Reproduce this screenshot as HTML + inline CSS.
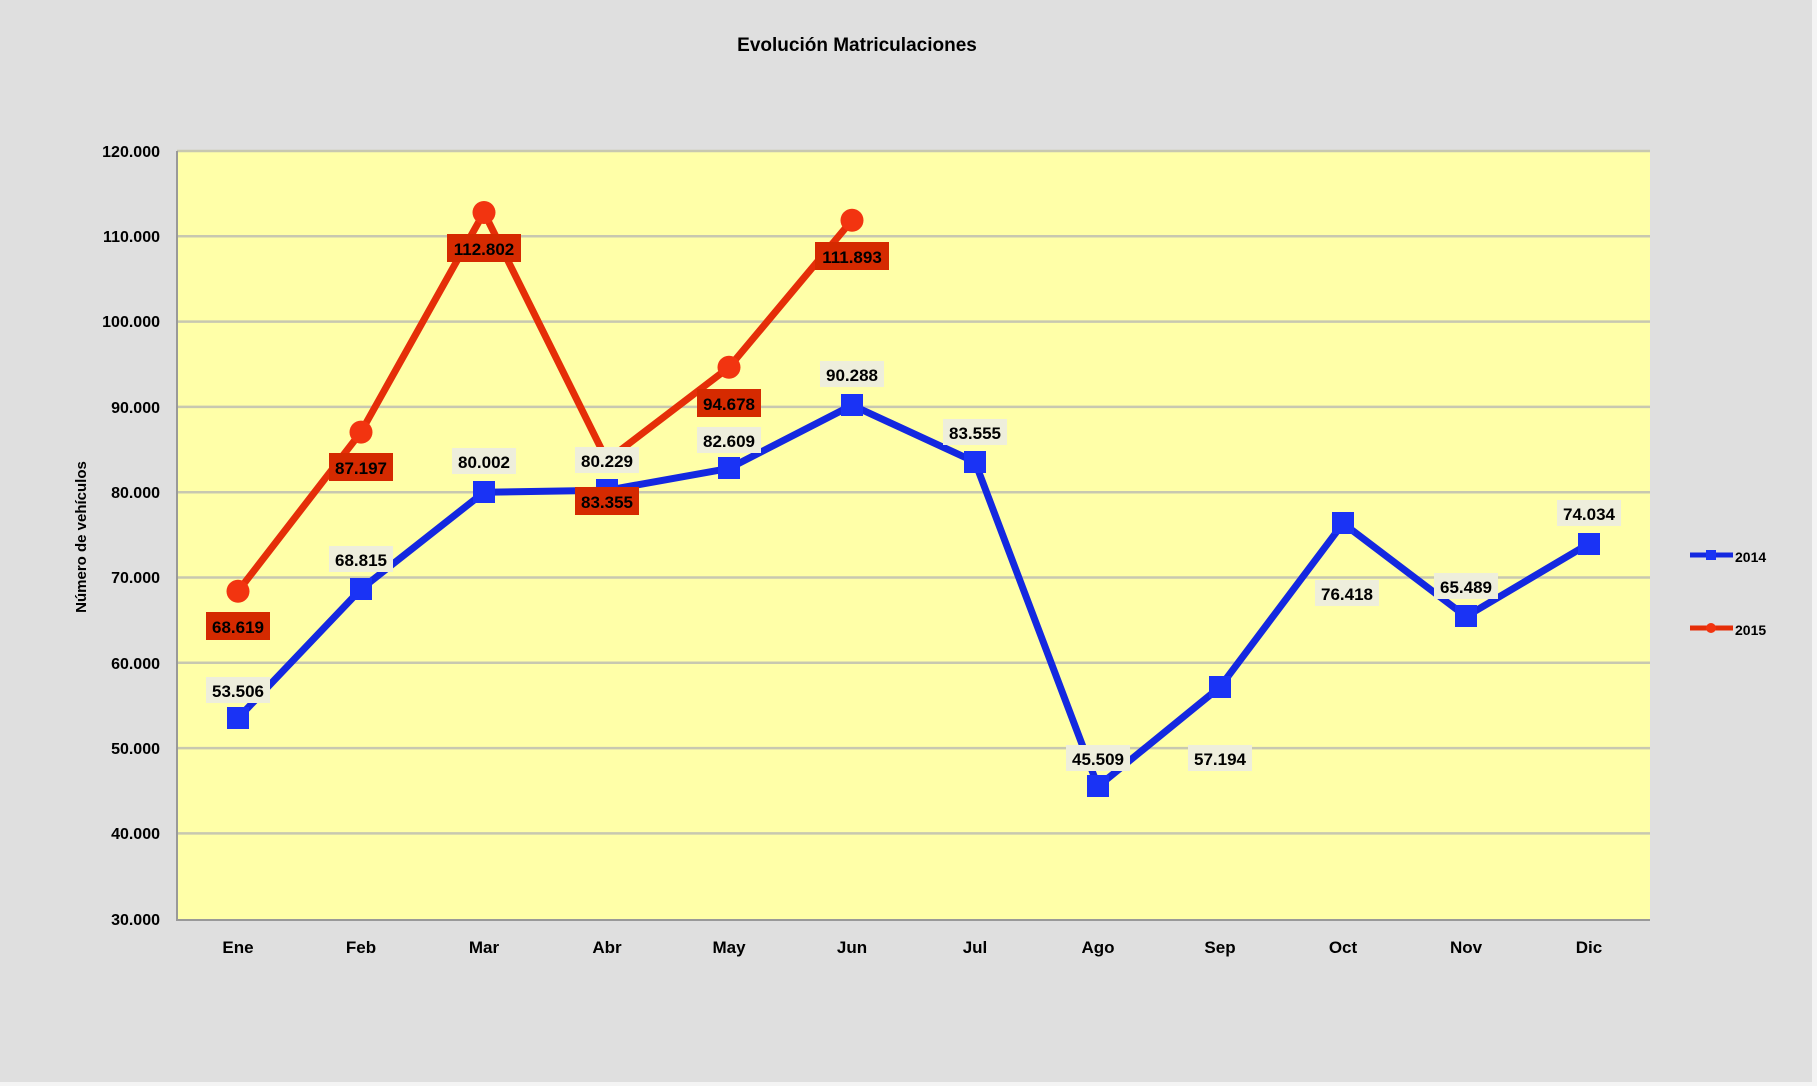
<!DOCTYPE html>
<html><head><meta charset="utf-8"><style>html,body{margin:0;padding:0;background:#e0e0e0}svg{display:block}text{font-family:"Liberation Sans",sans-serif;font-weight:bold}</style></head>
<body>
<svg width="1817" height="1086" viewBox="0 0 1817 1086" xmlns="http://www.w3.org/2000/svg">
<rect x="0" y="0" width="1817" height="1086" fill="#dfdfdf"/>
<rect x="1812" y="0" width="5" height="1086" fill="#f4f4f4"/>
<rect x="0" y="1082" width="1817" height="4" fill="#f4f4f4"/>
<text x="857" y="51" font-size="19" text-anchor="middle">Evolución  Matriculaciones</text>
<rect x="177" y="151" width="1473" height="770" fill="#ffffa8"/>
<g stroke="#c8c8b0" stroke-width="2.5">
<line x1="177" x2="1650" y1="236.3" y2="236.3"/><line x1="177" x2="1650" y1="321.6" y2="321.6"/>
<line x1="177" x2="1650" y1="406.9" y2="406.9"/><line x1="177" x2="1650" y1="492.2" y2="492.2"/>
<line x1="177" x2="1650" y1="577.5" y2="577.5"/><line x1="177" x2="1650" y1="662.8" y2="662.8"/>
<line x1="177" x2="1650" y1="748.1" y2="748.1"/><line x1="177" x2="1650" y1="833.4" y2="833.4"/>
<line x1="177" x2="1650" y1="151" y2="151"/>
</g>
<line x1="177" y1="151" x2="177" y2="921" stroke="#999" stroke-width="2"/>
<line x1="177" y1="920" x2="1650" y2="920" stroke="#999" stroke-width="2"/>
<g font-size="16" text-anchor="end">
<text x="160" y="157">120.000</text><text x="160" y="242">110.000</text><text x="160" y="327">100.000</text>
<text x="160" y="413">90.000</text><text x="160" y="498">80.000</text><text x="160" y="583">70.000</text>
<text x="160" y="669">60.000</text><text x="160" y="754">50.000</text><text x="160" y="839">40.000</text>
<text x="160" y="925">30.000</text>
</g>
<text transform="translate(86,537) rotate(-90)" font-size="15" text-anchor="middle">Número de vehículos</text>
<g font-size="17" text-anchor="middle">
<text x="238" y="953">Ene</text><text x="361" y="953">Feb</text><text x="484" y="953">Mar</text>
<text x="607" y="953">Abr</text><text x="729" y="953">May</text><text x="852" y="953">Jun</text>
<text x="975" y="953">Jul</text><text x="1098" y="953">Ago</text><text x="1220" y="953">Sep</text>
<text x="1343" y="953">Oct</text><text x="1466" y="953">Nov</text><text x="1589" y="953">Dic</text>
</g>
<polyline fill="none" stroke="#1428e0" stroke-width="7" stroke-linejoin="round" points="238,718.2 361,589.1 484,492.2 607,490.3 729,468.4 852,405.2 975,461.9 1098,786.4 1220,687 1343,523.3 1466,616.5 1589,543.6"/>
<g fill="#1a33f5">
<rect x="227" y="707" width="22" height="22"/><rect x="350" y="578" width="22" height="22"/><rect x="473" y="481" width="22" height="22"/>
<rect x="596" y="479" width="22" height="22"/><rect x="718" y="457" width="22" height="22"/><rect x="841" y="394" width="22" height="22"/>
<rect x="964" y="451" width="22" height="22"/><rect x="1087" y="775" width="22" height="22"/><rect x="1209" y="676" width="22" height="22"/>
<rect x="1332" y="512" width="22" height="22"/><rect x="1455" y="605" width="22" height="22"/><rect x="1578" y="533" width="22" height="22"/>
</g>
<polyline fill="none" stroke="#e52e08" stroke-width="7" stroke-linejoin="round" points="238,591.3 361,432.1 484,212.5 607,460.4 729,367.3 852,220.3"/>
<g fill="#f23410">
<circle cx="238" cy="591.3" r="11.5"/><circle cx="361" cy="432.1" r="11.5"/><circle cx="484" cy="212.5" r="11.5"/>
<circle cx="607" cy="460.4" r="11.5"/><circle cx="729" cy="367.3" r="11.5"/><circle cx="852" cy="220.3" r="11.5"/>
</g>
<g fill="#eeeedc">
<rect x="206" y="677" width="64" height="26"/><rect x="329" y="546" width="64" height="26"/><rect x="452" y="448" width="64" height="26"/>
<rect x="575" y="447" width="64" height="26"/><rect x="697" y="427" width="64" height="26"/><rect x="820" y="361" width="64" height="26"/>
<rect x="943" y="419" width="64" height="26"/><rect x="1066" y="745" width="64" height="26"/><rect x="1188" y="745" width="64" height="26"/>
<rect x="1315" y="580" width="64" height="26"/><rect x="1434" y="573" width="64" height="26"/><rect x="1557" y="500" width="64" height="26"/>
</g>
<g fill="#d52a00">
<rect x="206" y="612" width="64" height="28"/><rect x="329" y="453" width="64" height="28"/><rect x="447" y="234" width="74" height="28"/>
<rect x="575" y="487" width="64" height="28"/><rect x="697" y="389" width="64" height="28"/><rect x="815" y="242" width="74" height="28"/>
</g>
<g font-size="17" text-anchor="middle" fill="#000">
<text x="238" y="697">53.506</text><text x="361" y="566">68.815</text><text x="484" y="468">80.002</text>
<text x="607" y="467">80.229</text><text x="729" y="447">82.609</text><text x="852" y="381">90.288</text>
<text x="975" y="439">83.555</text><text x="1098" y="765">45.509</text><text x="1220" y="765">57.194</text>
<text x="1347" y="600">76.418</text><text x="1466" y="593">65.489</text><text x="1589" y="520">74.034</text>
<text x="238" y="633">68.619</text><text x="361" y="474">87.197</text><text x="484" y="255">112.802</text>
<text x="607" y="508">83.355</text><text x="729" y="410">94.678</text><text x="852" y="263">111.893</text>
</g>
<line x1="1690" y1="555" x2="1733" y2="555" stroke="#1428e0" stroke-width="5"/>
<rect x="1706" y="550" width="10" height="10" fill="#1a33f5"/>
<text x="1735" y="562" font-size="14">2014</text>
<line x1="1690" y1="628" x2="1733" y2="628" stroke="#e52e08" stroke-width="5"/>
<circle cx="1711" cy="628" r="5" fill="#f23410"/>
<text x="1735" y="635" font-size="14">2015</text>
</svg>
</body></html>
